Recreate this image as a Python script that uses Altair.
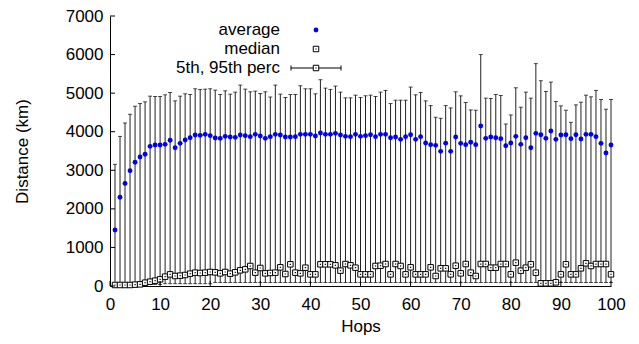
import altair as alt
import pandas as pd

hops = list(range(1, 101))

average = [1450, 2300, 2660, 2990, 3207, 3344, 3414, 3621, 3656, 3656,
           3673, 3777, 3586, 3699, 3785, 3845, 3915, 3906, 3932, 3898,
           3837, 3828, 3880, 3863, 3854, 3915, 3898, 3872, 3932, 3889,
           3828, 3872, 3932, 3915, 3863, 3863, 3872, 3932, 3932, 3932,
           3889, 3967, 3932, 3932, 3958, 3915, 3880, 3872, 3932, 3880,
           3898, 3923, 3872, 3932, 3932, 3845, 3863, 3802, 3872, 3923,
           3802, 3872, 3707, 3664, 3647, 3491, 3703, 3491, 3863, 3699,
           3664, 3725, 3664, 4149, 3828, 3863, 3845, 3820, 3638, 3707,
           3880, 3673, 3845, 3586, 3958, 3923, 3828, 4019, 3802, 3915,
           3923, 3820, 3923, 3811, 3932, 3932, 3872, 3699, 3448, 3655]

median = [26, 26, 26, 26, 35, 43, 86, 112, 138, 173,
          242, 302, 259, 268, 285, 320, 346, 337, 346, 363,
          354, 328, 363, 320, 354, 406, 432, 518, 346, 467,
          328, 338, 346, 484, 311, 562, 346, 328, 475, 302,
          302, 562, 562, 562, 536, 398, 570, 536, 475, 302,
          302, 302, 519, 527, 570, 302, 570, 519, 302, 484,
          302, 302, 302, 484, 259, 458, 458, 302, 527, 328,
          570, 346, 259, 570, 570, 475, 475, 570, 570, 302,
          605, 398, 475, 562, 346, 69, 69, 69, 95, 302,
          562, 302, 302, 458, 588, 519, 570, 570, 570, 302]

p5 = [5, 5, 5, 5, 5, 10, 20, 40, 40, 40,
      60, 60, 60, 60, 60, 60, 60, 60, 60, 60,
      90, 90, 90, 90, 90, 90, 90, 90, 90, 90,
      90, 90, 90, 90, 90, 90, 90, 90, 90, 90,
      90, 90, 90, 90, 90, 90, 90, 90, 90, 90,
      90, 90, 90, 90, 90, 90, 90, 90, 90, 90,
      90, 90, 90, 90, 90, 90, 90, 90, 90, 90,
      90, 90, 90, 90, 90, 90, 90, 90, 90, 90,
      90, 90, 90, 90, 90, 40, 40, 40, 40, 90,
      90, 90, 90, 90, 90, 90, 90, 90, 90, 90]

p95 = [3155, 3878, 4226, 4452, 4661, 4730, 4774, 4922, 4913, 4913,
       4957, 5017, 4800, 4922, 4983, 4965, 5113, 5096, 5104, 5113,
       5078, 4965, 5061, 4974, 5026, 5209, 5104, 5035, 5052, 4991,
       5035, 4900, 5209, 4974, 4887, 4965, 4965, 5191, 5113, 5113,
       4983, 5348, 5130, 5096, 5183, 5026, 4878, 4878, 4948, 4887,
       4930, 4948, 4913, 5026, 5070, 4730, 4817, 4817, 4817, 5157,
       4957, 5017, 4800, 4678, 4374, 4348, 4678, 4617, 5035, 4930,
       4757, 4565, 4557, 6000, 4870, 4861, 4965, 4939, 4200, 4435,
       5139, 4635, 5026, 4870, 5765, 5322, 5043, 5287, 4783, 4670,
       4557, 4243, 4696, 4765, 4948, 4904, 5070, 4835, 4583, 4835]

x_ticks = [0, 10, 20, 30, 40, 50, 60, 70, 80, 90, 100]
y_ticks = [0, 1000, 2000, 3000, 4000, 5000, 6000, 7000]

legend_labels = ["average", "median", "5th, 95th perc"]

df = pd.DataFrame({"hop": hops, "average": average, "median": median,
                   "p5": p5, "p95": p95})
xt = pd.DataFrame({"xt": x_ticks})
yt = pd.DataFrame({"yt": y_ticks})

W, H = 501, 270
FONT = "Liberation Sans"
FS = 17

xscale = alt.Scale(domain=[0, 100], nice=False, zero=False)
yscale = alt.Scale(domain=[0, 7000], nice=False, zero=True)

XAX = alt.Axis(values=x_ticks, ticks=False, grid=False, format="d",
               labelFlush=False, labelOverlap=False,
               domainColor="black", labelPadding=10, titlePadding=6,
               labelFont=FONT, titleFont=FONT, labelFontSize=FS,
               titleFontSize=FS, titleFontWeight="normal",
               labelColor="black", titleColor="black")
YAX = alt.Axis(values=y_ticks, ticks=False, grid=False, domainColor="black",
               format="d", labelFlush=False, labelOverlap=False,
               labelPadding=7, titlePadding=34, labelFont=FONT,
               titleFont=FONT, labelFontSize=FS, titleFontSize=FS,
               titleFontWeight="normal", labelColor="black",
               titleColor="black")


def xenc(field):
    return alt.X(field, scale=xscale, axis=XAX, title="Hops")


def yenc(field):
    return alt.Y(field, scale=yscale, axis=YAX, title="Distance (km)")


BAR_COLOR = "#222222"

bars = alt.Chart(df).mark_rule(color=BAR_COLOR, strokeWidth=1).encode(
    x=xenc("hop:Q"), y=yenc("p5:Q"), y2="p95:Q")

cap_top = alt.Chart(df).mark_tick(orient="horizontal", size=4, thickness=1,
                                  color="black").encode(
    x=xenc("hop:Q"), y=yenc("p95:Q"))
cap_bot = alt.Chart(df).mark_tick(orient="horizontal", size=4, thickness=1,
                                  color="black").encode(
    x=xenc("hop:Q"), y=yenc("p5:Q"))

med = alt.Chart(df).mark_square(size=30, filled=False, fill="white",
                                stroke="black", strokeWidth=1,
                                opacity=1).encode(
    x=xenc("hop:Q"), y=yenc("median:Q"))
med_dot = alt.Chart(df).mark_square(size=1.5, color="black", opacity=1).encode(
    x=xenc("hop:Q"), y=yenc("median:Q"))

avg = alt.Chart(df).mark_circle(size=24, color="#0000ee", opacity=1).encode(
    x=xenc("hop:Q"), y=yenc("average:Q"))

ytick_marks = alt.Chart(yt).mark_rule(color="black").encode(
    y=yenc("yt:Q"), x=alt.value(0), x2=alt.value(5))
xtick_marks = alt.Chart(xt).mark_rule(color="black").encode(
    x=xenc("xt:Q"), y=alt.value(H), y2=alt.value(H - 5))

# legend
LX_TEXT = 170
LX_SYM = 206
LY = [14, 33, 52]
leg_text = [
    alt.Chart(pd.DataFrame({"t": [lab]})).mark_text(
        align="right", baseline="middle", font=FONT, fontSize=FS,
        color="black").encode(text="t:N", x=alt.value(LX_TEXT), y=alt.value(ly))
    for lab, ly in zip(legend_labels, LY)
]
one = pd.DataFrame({"a": [0]})
leg_avg = alt.Chart(one).mark_circle(
    size=24, color="#0000ee", opacity=1).encode(
    x=alt.value(LX_SYM), y=alt.value(LY[0]))
leg_med = alt.Chart(one).mark_square(
    size=30, filled=False, fill="white", stroke="black", strokeWidth=1,
    opacity=1).encode(x=alt.value(LX_SYM), y=alt.value(LY[1]))
leg_med_dot = alt.Chart(one).mark_square(
    size=1.5, color="black", opacity=1).encode(
    x=alt.value(LX_SYM), y=alt.value(LY[1]))
leg_line = alt.Chart(one).mark_rule(color="black").encode(
    x=alt.value(LX_SYM - 25), x2=alt.value(LX_SYM + 25), y=alt.value(LY[2]))
leg_capl = alt.Chart(one).mark_rule(color="black").encode(
    x=alt.value(LX_SYM - 25), y=alt.value(LY[2] - 2.5), y2=alt.value(LY[2] + 2.5))
leg_capr = alt.Chart(one).mark_rule(color="black").encode(
    x=alt.value(LX_SYM + 25), y=alt.value(LY[2] - 2.5), y2=alt.value(LY[2] + 2.5))
leg_box = alt.Chart(one).mark_square(
    size=30, filled=False, fill="white", stroke="black", strokeWidth=1,
    opacity=1).encode(x=alt.value(LX_SYM), y=alt.value(LY[2]))
leg_box_dot = alt.Chart(one).mark_square(
    size=1.5, color="black", opacity=1).encode(
    x=alt.value(LX_SYM), y=alt.value(LY[2]))

chart = alt.layer(
    bars, cap_top, cap_bot, med, med_dot, avg, ytick_marks, xtick_marks,
    *leg_text, leg_avg, leg_med, leg_med_dot, leg_line, leg_capl, leg_capr,
    leg_box, leg_box_dot
).properties(
    width=W, height=H,
    autosize=alt.AutoSizeParams(type="none"),
    padding={"left": 102, "top": 8, "right": 20, "bottom": 50},
    background="white",
).configure_view(stroke=None)

chart.save("out.html", embed_options={"renderer": "svg", "actions": False})
